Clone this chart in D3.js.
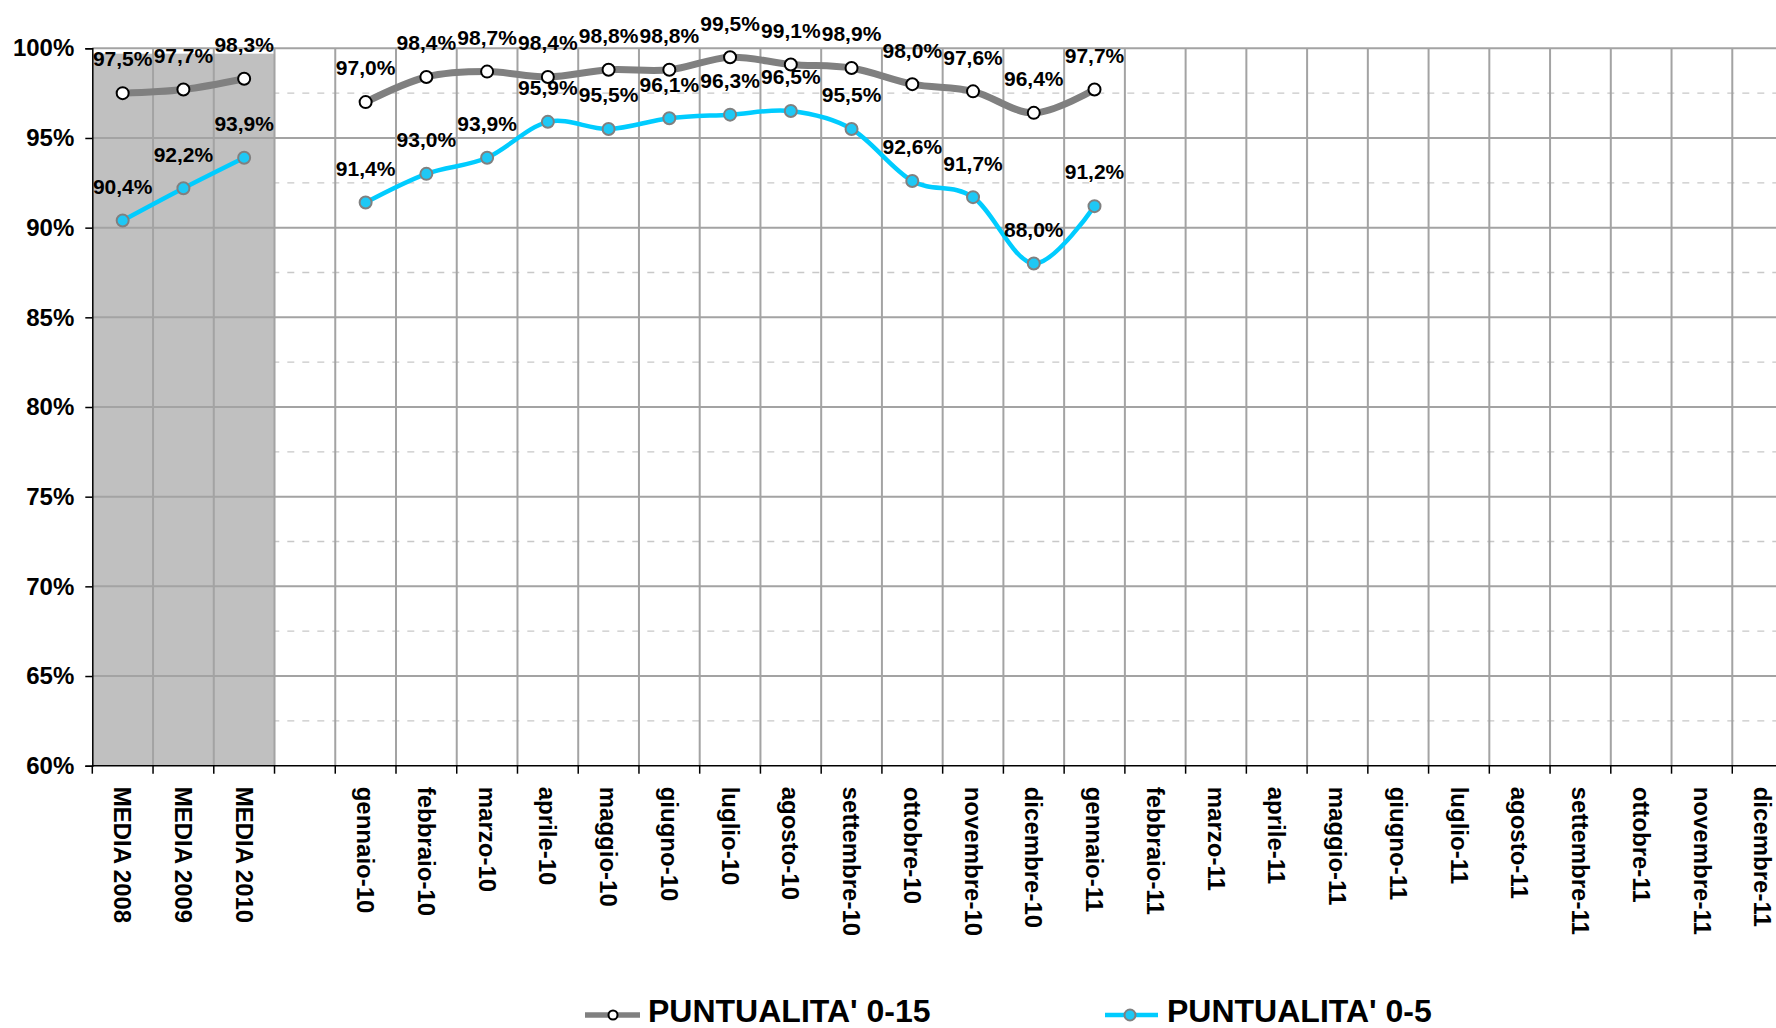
<!DOCTYPE html>
<html>
<head>
<meta charset="utf-8">
<script src="https://cdn.jsdelivr.net/npm/d3@7"></script>
<style>
  html, body { margin: 0; padding: 0; background: #ffffff; }
  svg { display: block; font-family: "Liberation Sans", Arial, sans-serif; }
</style>
</head>
<body>
<svg id="chart" width="1776" height="1028"></svg>
<script>
// ---- DATA ----
const categories = [
  "MEDIA 2008", "MEDIA 2009", "MEDIA 2010", "",
  "gennaio-10", "febbraio-10", "marzo-10", "aprile-10", "maggio-10", "giugno-10",
  "luglio-10", "agosto-10", "settembre-10", "ottobre-10", "novembre-10", "dicembre-10",
  "gennaio-11", "febbraio-11", "marzo-11", "aprile-11", "maggio-11", "giugno-11",
  "luglio-11", "agosto-11", "settembre-11", "ottobre-11", "novembre-11", "dicembre-11"
];
const seriesNames = ["PUNTUALITA' 0-15", "PUNTUALITA' 0-5"];
const puntualita015 = [97.5, 97.7, 98.3, null,
  97.0, 98.4, 98.7, 98.4, 98.8, 98.8, 99.5, 99.1, 98.9, 98.0, 97.6, 96.4,
  97.7, null, null, null, null, null, null, null, null, null, null, null];
const puntualita05 = [90.4, 92.2, 93.9, null,
  91.4, 93.0, 93.9, 95.9, 95.5, 96.1, 96.3, 96.5, 95.5, 92.6, 91.7, 88.0,
  91.2, null, null, null, null, null, null, null, null, null, null, null];
const mediaCategories = ["MEDIA 2008", "MEDIA 2009", "MEDIA 2010"];
const mediaShadeTop = 99.7;
const yTicks = [60, 65, 70, 75, 80, 85, 90, 95, 100];
const yMinorTicks = [62.5, 67.5, 72.5, 77.5, 82.5, 87.5, 92.5, 97.5];

// ---- LAYOUT ----
const svg = d3.select("#chart");
const plotLeft = 92.3, plotTop = 48.3, plotBottom = 765.7, bandW = 60.74;
const x = d3.scaleBand().domain(categories).range([plotLeft, plotLeft + bandW * categories.length]).padding(0);
const y = d3.scaleLinear().domain([60, 100]).range([plotBottom, plotTop]);
const plotRight = plotLeft + bandW * categories.length;
const gridColor = "#a3a3a3";

// minor dashed grid
svg.append("g").selectAll("line").data(yMinorTicks).join("line")
  .attr("x1", plotLeft).attr("x2", plotRight)
  .attr("y1", d => y(d)).attr("y2", d => y(d))
  .attr("stroke", "#c8c8c8").attr("stroke-width", 1.3)
  .attr("stroke-dasharray", "7,8");

// gray shaded MEDIA area
svg.append("rect")
  .attr("x", x(mediaCategories[0]))
  .attr("y", y(mediaShadeTop))
  .attr("width", x(mediaCategories[mediaCategories.length - 1]) + x.bandwidth() - x(mediaCategories[0]))
  .attr("height", y(60) - y(mediaShadeTop))
  .attr("fill", "#c0c0c0");

// major horizontal grid
svg.append("g").selectAll("line").data(yTicks.filter(d => d > 60)).join("line")
  .attr("x1", plotLeft).attr("x2", plotRight)
  .attr("y1", d => y(d)).attr("y2", d => y(d))
  .attr("stroke", gridColor).attr("stroke-width", 2);

// vertical grid at category boundaries
svg.append("g").selectAll("line").data(categories.slice(1)).join("line")
  .attr("x1", d => x(d)).attr("x2", d => x(d))
  .attr("y1", plotTop).attr("y2", plotBottom)
  .attr("stroke", gridColor).attr("stroke-width", 2);

// Y axis
const yAxis = d3.axisLeft(y).tickValues(yTicks).tickFormat(d => d + "%").tickSize(7).tickPadding(11);
const gy = svg.append("g").attr("transform", `translate(${plotLeft},0)`).call(yAxis);
gy.select(".domain").attr("stroke", "#000").attr("stroke-width", 1.5);
gy.selectAll(".tick line").attr("stroke", "#000").attr("stroke-width", 1.5);
gy.selectAll(".tick text").attr("font-size", 24).attr("font-weight", "bold")
  .attr("fill", "#000").attr("font-family", "Liberation Sans, Arial, sans-serif");

// X axis: ticks at band boundaries
const gx = svg.append("g").attr("transform", `translate(0,${plotBottom})`);
gx.append("line").attr("x1", plotLeft).attr("x2", plotRight).attr("y1", 0).attr("y2", 0)
  .attr("stroke", "#000").attr("stroke-width", 1.5);
gx.selectAll("line.tk").data(categories).join("line").attr("class", "tk")
  .attr("x1", d => x(d)).attr("x2", d => x(d))
  .attr("y1", 0).attr("y2", 8).attr("stroke", "#000").attr("stroke-width", 1.5);
gx.selectAll("text").data(categories.filter(c => c !== "")).join("text")
  .attr("transform", d => `translate(${x(d) + x.bandwidth() / 2},21) rotate(90)`)
  .attr("dy", "0.35em")
  .attr("text-anchor", "start")
  .attr("font-size", 24).attr("font-weight", "bold").attr("fill", "#000")
  .text(d => d);

// ---- SERIES ----
const series = [
  { name: seriesNames[0], values: puntualita015, color: "#808080", width: 7,
    markerFill: "#ffffff", markerStroke: "#000000", r: 6 },
  { name: seriesNames[1], values: puntualita05, color: "#00ccff", width: 4.5,
    markerFill: "#1ec8f5", markerStroke: "#808080", r: 6 }
];
const cx = c => x(c) + x.bandwidth() / 2;
const line = d3.line()
  .defined(d => d.v != null)
  .x(d => cx(d.c)).y(d => y(d.v))
  .curve(d3.curveCardinal.tension(0));

series.forEach(s => {
  const pts = categories.map((c, i) => ({ c, v: s.values[i] }));
  svg.append("path").datum(pts)
    .attr("d", line)
    .attr("fill", "none").attr("stroke", s.color).attr("stroke-width", s.width)
    .attr("stroke-linejoin", "round").attr("stroke-linecap", "butt");
  s.pts = pts.filter(d => d.v != null);
});
series.forEach(s => {
  svg.append("g").selectAll("circle").data(s.pts).join("circle")
    .attr("cx", d => cx(d.c)).attr("cy", d => y(d.v)).attr("r", s.r)
    .attr("fill", s.markerFill).attr("stroke", s.markerStroke).attr("stroke-width", 2);
});
series.forEach(s => {
  svg.append("g").selectAll("text").data(s.pts).join("text")
    .attr("x", d => cx(d.c)).attr("y", d => y(d.v) - 34)
    .attr("dy", "0.35em")
    .attr("text-anchor", "middle")
    .attr("font-size", 21).attr("font-weight", "bold").attr("fill", "#000")
    .text(d => d.v.toFixed(1).replace(".", ",") + "%");
});

// ---- LEGEND ----
const legendItems = [
  { s: series[0], x0: 585, x1: 640, mx: 613, mr: 4.5, lw: 5.5, tx: 648 },
  { s: series[1], x0: 1105, x1: 1158, mx: 1130, mr: 5.5, lw: 4.5, tx: 1167 }
];
const legendY = 1015;
legendItems.forEach(l => {
  svg.append("line").attr("x1", l.x0).attr("x2", l.x1).attr("y1", legendY).attr("y2", legendY)
    .attr("stroke", l.s.color).attr("stroke-width", l.lw);
  svg.append("circle").attr("cx", l.mx).attr("cy", legendY).attr("r", l.mr)
    .attr("fill", l.s.markerFill).attr("stroke", l.s.markerStroke).attr("stroke-width", 2);
  svg.append("text").attr("x", l.tx).attr("y", 1022)
    .attr("font-size", 32).attr("font-weight", "bold").attr("fill", "#000")
    .text(l.s.name);
});
</script>
</body>
</html>
